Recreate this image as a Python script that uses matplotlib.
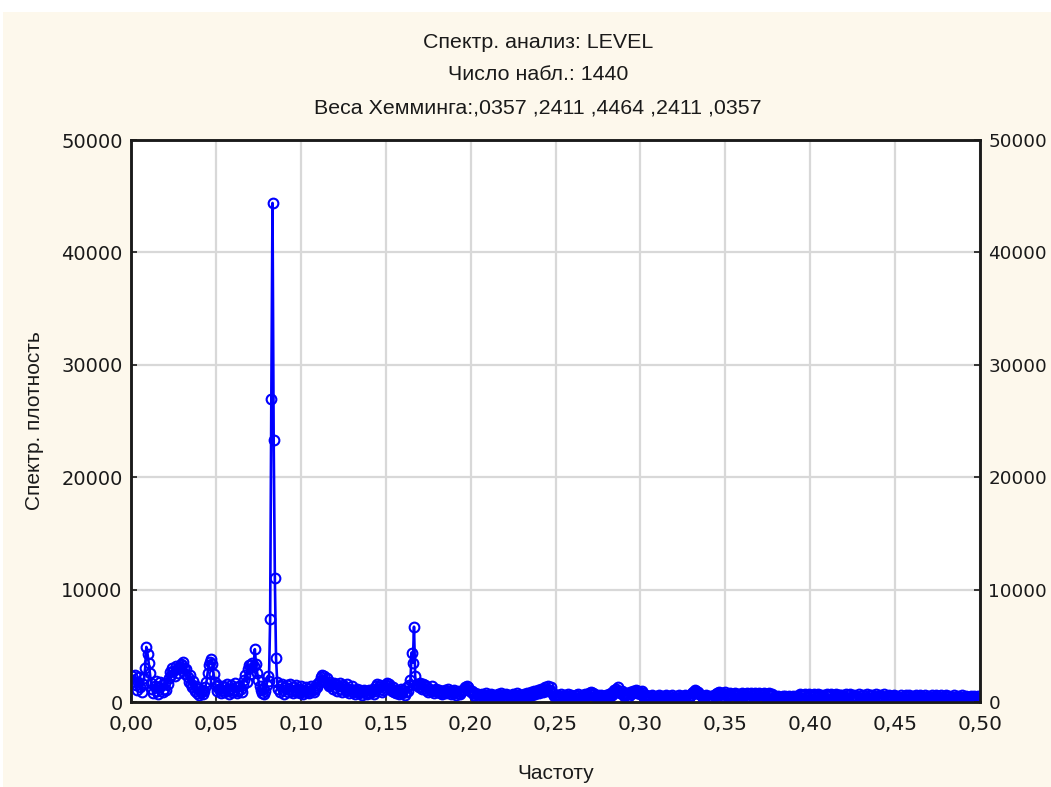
import numpy as np
import matplotlib
matplotlib.use("Agg")
import matplotlib.pyplot as plt
from matplotlib.patches import Rectangle
from matplotlib.ticker import FuncFormatter

# ---- data: smoothed spectral density, frequencies k/1440, k = 1..720 ----
n_obs = 1440
dens_001_040 = [2300, 1900, 2400, 1500, 1100, 1800, 2200, 1300, 900, 1600, 2100, 3000,
                4900, 4300, 3500, 2600, 1700, 1200, 800, 1400, 1900, 1000, 700, 1300,
                1800, 1500, 900, 1200, 1700, 1100, 1600, 2100, 2700, 2400, 3000, 2800,
                2300, 3200, 2900, 2600]
dens_041_080 = [3100, 3400, 3300, 3600, 3000, 2500, 2900, 2200, 1800, 2400, 1600, 1300,
                1900, 1000, 1400, 800, 1200, 600, 900, 1100, 700, 1000, 1300, 1800,
                2600, 3300, 3600, 3800, 3400, 2500, 1800, 1400, 1000, 1500, 1200, 800,
                1100, 1400, 900, 1300]
dens_081_120 = [1600, 1000, 700, 1200, 1500, 900, 1100, 1700, 1300, 800, 1000, 1400,
                1200, 900, 1500, 2000, 2400, 1800, 2900, 3300, 2500, 3300, 3500, 3200,
                4700, 3400, 2600, 2000, 1400, 1100, 800, 1200, 700, 1000, 1500, 2300,
                1900, 7400, 27000, 44400]
dens_121_160 = [23300, 11000, 3900, 1800, 1200, 900, 1400, 1600, 1100, 700, 1300, 1500,
                900, 1200, 1600, 1000, 800, 1300, 1100, 1500, 900, 1200, 800, 1400,
                1000, 700, 1100, 1300, 900, 1200, 800, 1000, 1400, 1100, 900, 1200,
                1500, 1300, 1700, 1900]
dens_161_200 = [2200, 2400, 1900, 2300, 1800, 2100, 1600, 1400, 1800, 1500, 1200, 1700,
                1300, 1600, 1000, 1400, 1700, 1200, 900, 1500, 1300, 1000, 1600, 1100,
                800, 1200, 1400, 900, 1100, 700, 1000, 1200, 800, 1100, 900, 600,
                1000, 1100, 800, 700]
dens_201_240 = [900, 1100, 800, 1000, 1200, 700, 1000, 1400, 1600, 1300, 1500, 1200,
                900, 1100, 1300, 1500, 1700, 1400, 1600, 1200, 1000, 1300, 900, 1100,
                800, 1000, 700, 900, 1200, 800, 1100, 600, 900, 1300, 1000, 1500,
                2000, 4400, 3500, 6700]
dens_241_280 = [2300, 1500, 1600, 1300, 1700, 1400, 1200, 1600, 1500, 1100, 1300, 900,
                1200, 1000, 1400, 1100, 800, 1000, 1200, 900, 1100, 800, 1000, 700,
                900, 1100, 800, 1000, 1200, 900, 700, 1000, 800, 1100, 900, 600,
                800, 1000, 700, 900]
dens_281_320 = [1000, 1100, 1300, 1200, 1400, 1300, 1100, 900, 1000, 800, 600, 800,
                400, 700, 500, 300, 600, 700, 400, 500, 800, 600, 300, 500,
                700, 400, 600, 500, 300, 600, 700, 400, 500, 800, 600, 300,
                500, 700, 400, 600]
dens_321_360 = [500, 300, 600, 700, 400, 500, 800, 600, 400, 300, 600, 500,
                700, 400, 600, 800, 500, 700, 900, 600, 800, 1000, 700, 900,
                1100, 800, 1000, 1200, 900, 1100, 1300, 1000, 1200, 1400, 1100, 1300,
                900, 700, 500, 600]
dens_361_400 = [400, 600, 500, 300, 700, 500, 400, 600, 300, 500, 700, 400,
                600, 500, 300, 400, 600, 500, 700, 400, 300, 500, 600, 400,
                700, 500, 600, 800, 700, 900, 600, 800, 700, 500, 400, 600,
                300, 500, 600, 400]
dens_401_440 = [500, 300, 600, 400, 700, 500, 800, 600, 900, 1100, 1200, 1000,
                1300, 900, 800, 1000, 700, 500, 600, 800, 700, 500, 900, 700,
                800, 1000, 900, 1100, 800, 1000, 900, 700, 1000, 800, 500, 300,
                600, 400, 500, 300]
dens_441_480 = [400, 600, 500, 300, 200, 500, 400, 600, 300, 500, 400, 200,
                500, 600, 400, 300, 500, 400, 600, 300, 200, 400, 500, 300,
                600, 400, 500, 300, 400, 600, 500, 300, 400, 500, 600, 800,
                900, 1100, 1000, 800]
dens_481_520 = [900, 700, 600, 500, 400, 300, 500, 600, 400, 200, 500, 300,
                400, 600, 500, 700, 800, 600, 900, 700, 800, 500, 700, 850,
                600, 500, 700, 800, 600, 400, 700, 800, 500, 600, 750, 400,
                600, 800, 500, 700]
dens_521_560 = [600, 800, 500, 400, 700, 800, 600, 400, 800, 700, 500, 600,
                800, 400, 700, 600, 800, 500, 300, 700, 800, 600, 500, 700,
                400, 500, 300, 400, 550, 300, 200, 400, 500, 300, 500, 400,
                200, 500, 400, 300]
dens_561_600 = [500, 400, 300, 550, 400, 500, 700, 600, 400, 300, 600, 700,
                500, 400, 700, 600, 300, 500, 700, 600, 400, 500, 700, 600,
                300, 500, 650, 400, 600, 700, 500, 300, 600, 700, 400, 500,
                600, 700, 500, 600]
dens_601_640 = [600, 400, 650, 300, 500, 700, 400, 250, 600, 700, 450, 300,
                650, 500, 300, 450, 700, 550, 250, 400, 650, 350, 550, 700,
                400, 300, 600, 650, 400, 250, 550, 700, 350, 450, 650, 500,
                300, 450, 700, 400]
dens_641_680 = [500, 300, 600, 550, 250, 450, 600, 350, 550, 450, 250, 400,
                600, 450, 300, 550, 600, 300, 450, 600, 350, 450, 550, 250,
                400, 600, 450, 300, 600, 550, 250, 450, 600, 350, 450, 550,
                300, 450, 600, 400]
dens_681_720 = [450, 300, 600, 550, 250, 400, 600, 450, 300, 550, 600, 300,
                450, 550, 350, 250, 450, 600, 400, 300, 550, 450, 250, 400,
                600, 450, 300, 550, 450, 300, 400, 550, 350, 450, 550, 300,
                400, 500, 350, 400]

density = (dens_001_040 + dens_041_080 + dens_081_120 + dens_121_160 + dens_161_200 +
           dens_201_240 + dens_241_280 + dens_281_320 + dens_321_360 + dens_361_400 +
           dens_401_440 + dens_441_480 + dens_481_520 + dens_521_560 + dens_561_600 +
           dens_601_640 + dens_641_680 + dens_681_720)
assert len(density) == 720, len(density)
freq = np.arange(1, len(density) + 1) / n_obs

x_ticks = [0.00, 0.05, 0.10, 0.15, 0.20, 0.25, 0.30, 0.35, 0.40, 0.45, 0.50]
y_ticks = [0, 10000, 20000, 30000, 40000, 50000]
title_lines = ["Спектр. анализ: LEVEL", "Число набл.: 1440",
               "Веса Хемминга:,0357 ,2411 ,4464 ,2411 ,0357"]
x_label = "Частоту"
y_label = "Спектр. плотность"

# ---- figure ----
W, H = 1051, 787
fig = plt.figure(figsize=(W / 100, H / 100), dpi=100, facecolor="white")
cream = "#FDF8EC"
fig.patches.append(Rectangle((3 / W, 0), 1, 1 - 12 / H, transform=fig.transFigure,
                             facecolor=cream, edgecolor="none", zorder=-10))

L, R, T, B = 131, 980, 140, 702
ax = fig.add_axes([L / W, 1 - B / H, (R - L) / W, (B - T) / H])
ax.set_facecolor("white")

ax.plot(freq, density, color="#0000FF", lw=1.9, marker="o", markersize=7,
        markerfacecolor="none", markeredgecolor="#0000FF", markeredgewidth=1.5,
        zorder=3)

ax.set_xlim(0, 0.5)
ax.set_ylim(0, 50000)
ax.set_xticks(x_ticks)
ax.set_yticks(y_ticks)
ax.grid(True, color="#D8D8D8", lw=1.6, zorder=0)
ax.set_axisbelow(True)

ax.xaxis.set_major_formatter(FuncFormatter(lambda v, p: f"{v:.2f}".replace(".", ",")))
ax.yaxis.set_major_formatter(FuncFormatter(lambda v, p: f"{int(v)}"))
ax.tick_params(direction="in", length=4, width=1.2, colors="#1a1a1a")
ax.tick_params(axis="y", pad=6, labelsize=14)
ax.tick_params(axis="x", pad=9, labelsize=14.5)
for lab in ax.get_xticklabels() + ax.get_yticklabels():
    lab.set_fontfamily("DejaVu Sans")

ax2 = ax.twinx()
ax2.set_ylim(0, 50000)
ax2.set_yticks(y_ticks)
ax2.yaxis.set_major_formatter(FuncFormatter(lambda v, p: f"{int(v)}"))
ax2.tick_params(direction="in", length=4, width=1.2, colors="#1a1a1a",
                labelsize=13.2, pad=6)
for lab in ax2.get_yticklabels():
    lab.set_fontfamily("DejaVu Sans")
for a in (ax, ax2):
    for s in a.spines.values():
        s.set_color("#1a1a1a")
        s.set_linewidth(1.8)

label_font = dict(family="Liberation Sans", size=15, color="#1a1a1a")
ax.set_xlabel(x_label, labelpad=22, **label_font)
ax.set_ylabel(y_label, labelpad=12, **label_font)

title_font = dict(family="Liberation Sans", size=15.4, color="#1a1a1a")
tx = 538 / W
for t, y in zip(title_lines, [43, 74, 108]):
    fig.text(tx, 1 - y / H, t, ha="center", va="center", **title_font)

fig.savefig("out.png", dpi=100, facecolor=fig.get_facecolor())
